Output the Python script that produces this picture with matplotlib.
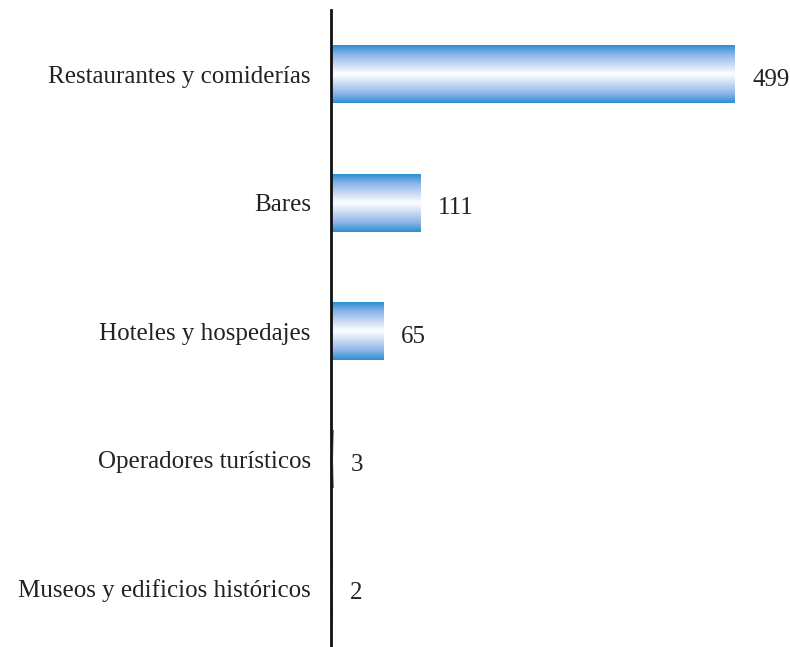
import matplotlib.pyplot as plt
import numpy as np
from matplotlib.colors import LinearSegmentedColormap

categories = ['Restaurantes y comiderías', 'Bares', 'Hoteles y hospedajes',
              'Operadores turísticos', 'Museos y edificios históricos']
values = [499, 111, 65, 3, 2]

plt.rcParams['font.family'] = ['Liberation Serif', 'DejaVu Serif']

fig = plt.figure(figsize=(7.9, 6.47), dpi=100)
ax = fig.add_axes([331 / 790, 0.0, 1 - 331 / 790, 637 / 647])

cmap = LinearSegmentedColormap.from_list(
    'bar', ['#2a8fd2', '#8fb6e8', '#c9d9f5', '#ffffff', '#c9d9f5', '#8fb6e8', '#2a8fd2'])
grad = np.linspace(0, 1, 256).reshape(-1, 1)

h = 0.45
y = np.arange(len(categories))
bars = ax.barh(y, values, height=h, color='none')
for b in bars:
    x0, y0 = b.get_x(), b.get_y()
    w, hh = b.get_width(), b.get_height()
    ax.imshow(grad, cmap=cmap, aspect='auto', interpolation='bicubic',
              extent=(x0, x0 + w, y0 + hh, y0), zorder=2)

# value labels sit a little below the bar centre, like the original
for yi, v in zip(y, values):
    ax.annotate(str(v), (v, yi), xytext=(12.5, -4), textcoords='offset points',
                va='center', ha='left', fontsize=18, color='#222222')

ax.set_xlim(0, (790 - 331) / (404 / 499))
ax.set_ylim(4.46, -0.5)
ax.set_yticks(y)
ax.set_yticklabels(categories, fontsize=18, color='#222222')
ax.tick_params(axis='y', length=0, pad=14.5)
ax.set_xticks([])
for s in ['top', 'right', 'bottom']:
    ax.spines[s].set_visible(False)
ax.spines['left'].set_linewidth(2)
ax.spines['left'].set_color('#111111')
ax.spines['left'].set_zorder(5)

fig.savefig('out.png', dpi=100)
